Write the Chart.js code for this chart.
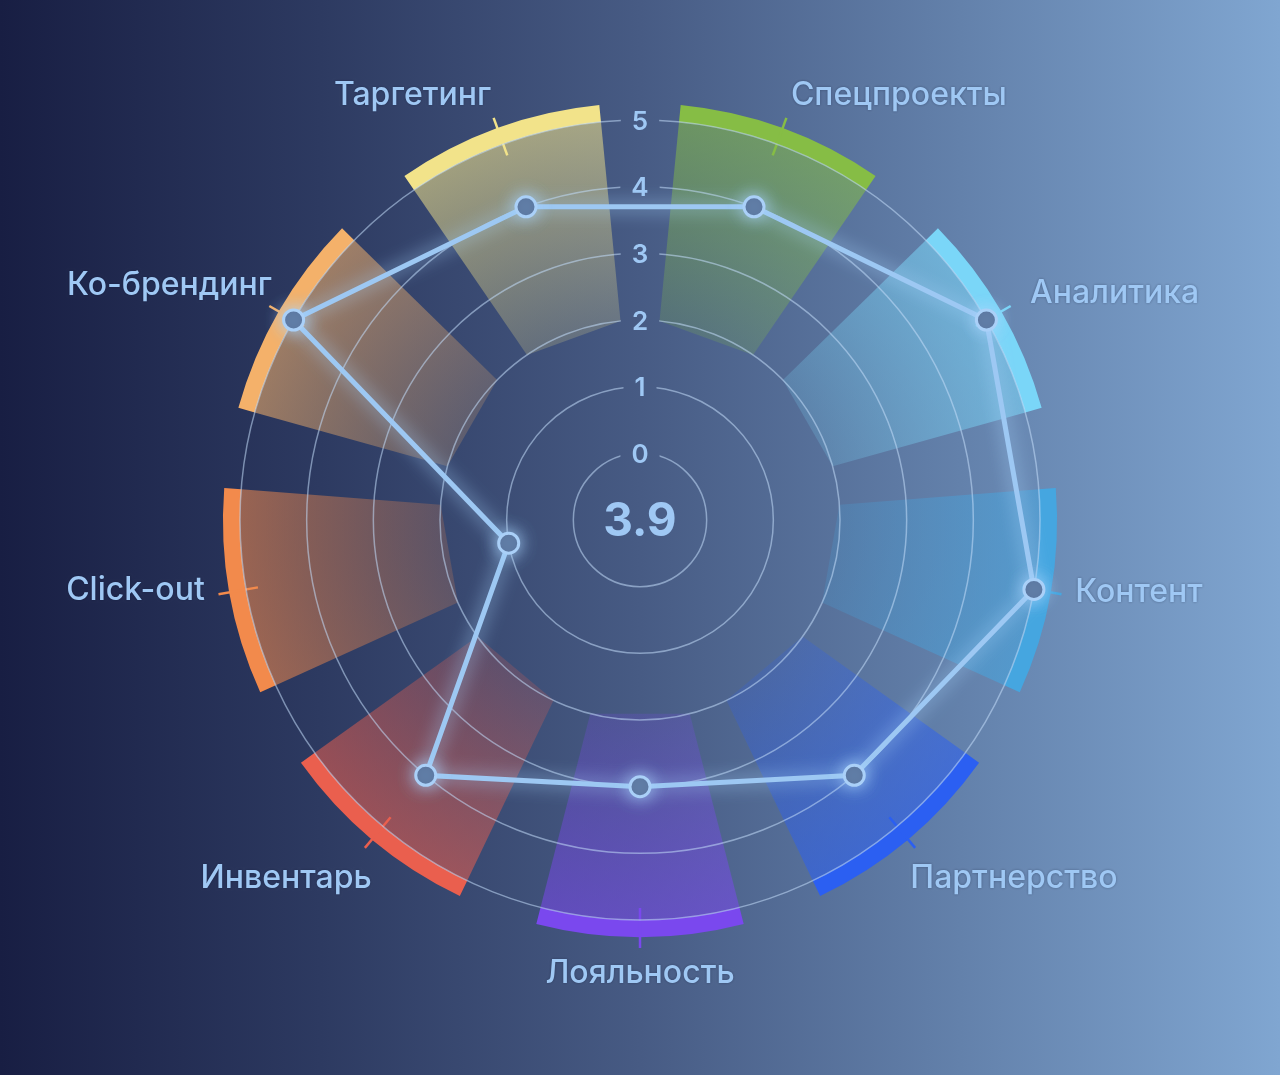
<!DOCTYPE html>
<html><head><meta charset="utf-8">
<script src="https://cdn.jsdelivr.net/npm/chart.js@4/dist/chart.umd.min.js"></script>
<style>html,body{margin:0;padding:0;background:#1a2045;overflow:hidden}canvas{display:block}</style>
</head><body>
<canvas id="c" width="1280" height="1075"></canvas>
<script>
// ---- data ----
const categories = ['Таргетинг','Спецпроекты','Аналитика','Контент','Партнерство','Лояльность','Инвентарь','Click-out','Ко-брендинг'];
const scores = [4, 4, 5, 5, 4, 3, 4, 1, 5];
const sectorFrom = [2, 2, 2, 2, 2, 2, 2, 2, 2];
const sectorTo = [5, 5, 5, 5, 5, 5, 5, 5, 5];
const tickValues = [0, 1, 2, 3, 4, 5];
const sectorColors = ['#f2e38a','#86bd45','#7ad6f8','#45a6e0','#2b5ff2','#7a48ee','#ea5f4e','#f28a4c','#f4b16a'];

// ---- styles ----
const TEXT_COLOR = '#9fc8f4';
const BAND = 17;
const SPAN = 0.72;
// small per-label placement nudges (px) to follow the reference layout
const labelNudge = [[4,-5],[-2,-5],[3,-3],[-5,-5],[-17,16],[0,6],[19,16],[5,-7],[19,-11]];

function hexA(hex, a) {
  const n = parseInt(hex.slice(1), 16);
  return `rgba(${(n >> 16) & 255},${(n >> 8) & 255},${n & 255},${a})`;
}
function bgGradient(ctx, w) {
  const g = ctx.createLinearGradient(0, 0, w, 0);
  g.addColorStop(0, '#181e43');
  g.addColorStop(0.25, '#2d3a61');
  g.addColorStop(0.5, '#475b84');
  g.addColorStop(0.75, '#6381ab');
  g.addColorStop(1, '#80a6d1');
  return g;
}

const decor = {
  id: 'decor',
  beforeDraw(chart) {
    const ctx = chart.ctx, s = chart.scales.r;
    ctx.save();
    ctx.fillStyle = bgGradient(ctx, chart.width);
    ctx.fillRect(0, 0, chart.width, chart.height);
    const n = categories.length;
    const half = Math.PI / n * SPAN;
    const cx = s.xCenter, cy = s.yCenter;
    for (let i = 0; i < n; i++) {
      const a = s.getIndexAngle(i) - Math.PI / 2;
      const r1 = s.getDistanceFromCenterForValue(sectorFrom[i]);
      const r2 = s.getDistanceFromCenterForValue(sectorTo[i]);
      const col = sectorColors[i];
      const g = ctx.createRadialGradient(cx, cy, r1 * Math.cos(half), cx, cy, r2);
      g.addColorStop(0, hexA(col, 0.2));
      g.addColorStop(1, hexA(col, 0.56));
      ctx.beginPath();
      ctx.moveTo(cx + r1 * Math.cos(a - half), cy + r1 * Math.sin(a - half));
      ctx.lineTo(cx + r1 * Math.cos(a + half), cy + r1 * Math.sin(a + half));
      ctx.arc(cx, cy, r2, a + half, a - half, true);
      ctx.closePath();
      ctx.fillStyle = g;
      ctx.fill();
      ctx.beginPath();
      ctx.arc(cx, cy, r2, a - half, a + half, false);
      ctx.arc(cx, cy, r2 + BAND, a + half, a - half, true);
      ctx.closePath();
      ctx.fillStyle = col;
      ctx.fill();
      ctx.beginPath();
      ctx.moveTo(cx + (r2 - 12) * Math.cos(a), cy + (r2 - 12) * Math.sin(a));
      ctx.lineTo(cx + (r2 + BAND + 11) * Math.cos(a), cy + (r2 + BAND + 11) * Math.sin(a));
      ctx.strokeStyle = col;
      ctx.lineWidth = 2.5;
      ctx.stroke();
    }
    ctx.restore();
  },
  beforeDatasetsDraw(chart) {
    const ctx = chart.ctx, s = chart.scales.r;
    const cx = s.xCenter, cy = s.yCenter;
    ctx.save();
    // tick labels with backdrop
    ctx.font = '600 26px Inter';
    ctx.textAlign = 'center';
    ctx.textBaseline = 'middle';
    tickValues.forEach(v => {
      const y = cy - s.getDistanceFromCenterForValue(v);
      const t = String(v);
      const w = ctx.measureText(t).width + 22;
      ctx.fillStyle = bgGradient(ctx, chart.width);
      ctx.fillRect(cx - w / 2, y - 13, w, 26);
      ctx.fillStyle = TEXT_COLOR;
      ctx.fillText(t, cx, y + 2);
    });
    // center average
    const avg = scores.reduce((p, c) => p + c, 0) / scores.length;
    ctx.font = '700 46px Inter';
    ctx.fillStyle = TEXT_COLOR;
    ctx.fillText(avg.toFixed(1), cx, cy + 2);
    // category labels
    ctx.font = '500 32px Inter';
    ctx.shadowColor = 'rgba(10,20,50,0.35)';
    ctx.shadowBlur = 3;
    const dist = s.getDistanceFromCenterForValue(5) + 47;
    categories.forEach((lab, i) => {
      const p = s.getPointPosition(i, dist);
      const ang = s.getIndexAngle(i);
      const sn = Math.sin(ang);
      ctx.textAlign = sn > 0.1 ? 'left' : (sn < -0.1 ? 'right' : 'center');
      ctx.textBaseline = 'middle';
      ctx.fillText(lab, p.x + labelNudge[i][0], p.y + labelNudge[i][1]);
    });
    ctx.restore();
  },
  beforeDatasetDraw(chart) {
    const ctx = chart.ctx;
    ctx.save();
    ctx.shadowColor = 'rgba(170,215,255,0.9)';
    ctx.shadowBlur = 18;
  },
  afterDatasetDraw(chart) {
    chart.ctx.restore();
  }
};

new Chart(document.getElementById('c'), {
  type: 'radar',
  data: {
    labels: categories,
    datasets: [{
      data: scores,
      fill: false,
      borderColor: '#9dc8f3',
      borderWidth: 5,
      tension: 0,
      pointRadius: 10,
      pointBackgroundColor: '#4f6891',
      pointBorderColor: '#aad0f8',
      pointBorderWidth: 3
    }]
  },
  options: {
    responsive: false,
    devicePixelRatio: 1,
    animation: false,
    layout: { padding: { top: 120, bottom: 155, left: 0, right: 0 } },
    plugins: { legend: { display: false }, tooltip: { enabled: false } },
    scales: {
      r: {
        min: -1,
        max: 5,
        startAngle: -20,
        ticks: { display: false, stepSize: 1 },
        pointLabels: { display: false },
        angleLines: { display: false },
        grid: {
          circular: true,
          lineWidth: 1.5,
          color: c => (c.tick && c.tick.value < 0) ? 'rgba(0,0,0,0)' : 'rgba(195,220,250,0.55)'
        }
      }
    }
  },
  plugins: [decor]
});
</script>
</body></html>
